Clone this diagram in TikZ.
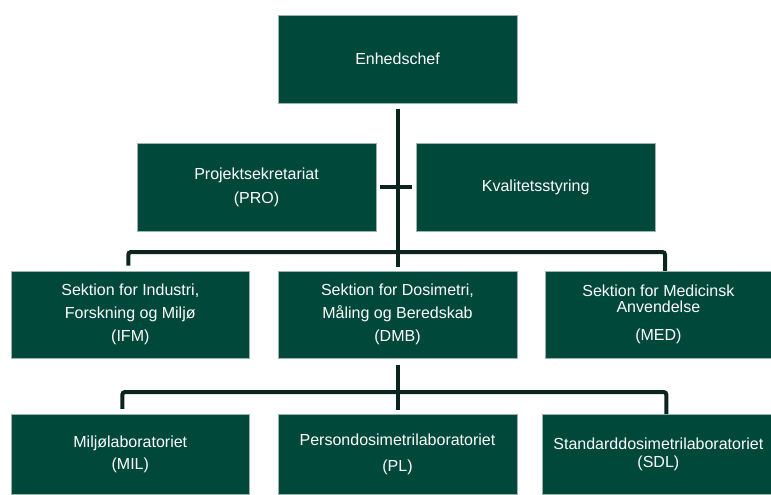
\documentclass[tikz,border=0pt]{standalone}
\usepackage{fontspec}
\setmainfont{Liberation Sans}
\usetikzlibrary{positioning}
\definecolor{orggreen}{HTML}{00483A}
\definecolor{orgline}{HTML}{0B241D}
\definecolor{orgedge}{HTML}{9DB3AB}

\begin{document}
\begin{tikzpicture}[
  x=0.75pt, y=-0.75pt,
  node distance=42pt and 21pt,
  unit/.style={draw=orgedge, line width=0.4pt, fill=orggreen, text=white, minimum width=179pt, minimum height=65pt, align=center, inner sep=2pt, font=\fontsize{12}{17}\selectfont},
  narrow/.style={unit, minimum width=169.5pt},
  link/.style={draw=orgline, line width=3pt},
  bus/.style={link, rounded corners=2pt, shorten <=4pt}
]
\useasboundingbox (0,0) rectangle (771,494);
% top of the chart
\node[unit, minimum height=66pt] (chef) at (397.5,59) {Enhedschef};
\node[unit, minimum height=66pt] (pro) at (256.5,187) {Projektsekretariat\\[1pt](PRO)};
\node[unit, minimum height=66pt, right=30pt of pro] (kval) {Kvalitetsstyring};
% sections
\node[unit] (dmb) at (397.5,314.5) {Sektion for Dosimetri,\\M\aa ling og Beredskab\\(DMB)};
\node[unit, left=of dmb] (ifm) {Sektion for Industri,\\Forskning og Milj\o\\(IFM)};
\node[narrow, right=of dmb] (med) {Sektion for Medicinsk\\[-5pt]Anvendelse\\[4pt](MED)};
% laboratories
\node[unit, minimum height=60pt, below=of ifm] (mil) {Milj\o laboratoriet\\(MIL)};
\node[unit, minimum height=60pt, below=of dmb] (pl) {Persondosimetrilaboratoriet\\[3pt](PL)};
\node[narrow, minimum height=60pt, below=of med, text width=169.5pt] (sdl) {\makebox[0pt]{Standarddosimetrilaboratoriet}\\[-3pt](SDL)};
\coordinate (bustop) at (397.5,252);
\coordinate (buslow) at (397.5,392);
% connectors
\draw[link, shorten <=4pt, shorten >=3pt] (chef.south) -- (dmb.north);
\draw[link, shorten <=3pt, shorten >=3pt] (pro.east) -- (kval.west);
\draw[bus] ([xshift=-1.5pt]ifm.north) |- (bustop) -| ([xshift=5pt]med.north);
\draw[link, shorten <=5pt, shorten >=3pt] (dmb.south) -- (pl.north);
\draw[bus] ([xshift=-6pt]mil.north) |- (buslow) -| ([xshift=6pt]sdl.north);
\end{tikzpicture}
\end{document}
